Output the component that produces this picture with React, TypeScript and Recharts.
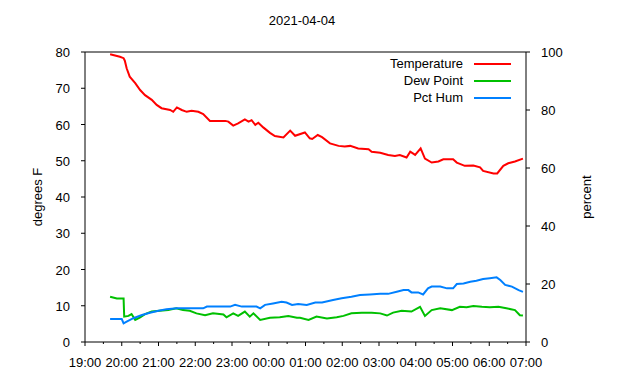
import { LineChart, Line, XAxis, YAxis, ReferenceLine, Legend } from 'recharts';

// readings, times are local clock "HH:MM" (evening of 04-03 to morning of 04-04)
const tempTimes = [
  '19:41', '19:57', '20:03', '20:05', '20:08', '20:13', '20:22', '20:30', '20:38', '20:49',
  '20:57', '21:05', '21:19', '21:24', '21:30', '21:38', '21:46', '21:54', '22:05', '22:13',
  '22:24', '22:49', '22:54', '23:02', '23:10', '23:21', '23:27', '23:32', '23:38', '23:43',
  '23:51', '00:02', '00:10', '00:24', '00:35', '00:43', '00:59', '01:07', '01:11', '01:20',
  '01:27', '01:40', '01:54', '02:04', '02:13', '02:26', '02:43', '02:48', '03:02', '03:15',
  '03:26', '03:34', '03:45', '03:51', '03:59', '04:08', '04:15', '04:26', '04:37', '04:45',
  '05:01', '05:07', '05:20', '05:34', '05:45', '05:50', '06:07', '06:13', '06:23', '06:31',
  '06:42', '06:55',
];
const tempValues = [
  79.4, 78.7, 78.3, 77.6, 75.5, 73.2, 71.4, 69.5, 68.1, 66.8,
  65.4, 64.5, 64.0, 63.5, 64.7, 64.0, 63.5, 63.8, 63.5, 62.9,
  61.0, 61.0, 60.8, 59.7, 60.3, 61.4, 60.8, 61.2, 59.9, 60.5,
  59.2, 57.7, 56.8, 56.4, 58.3, 56.9, 57.8, 56.2, 56.0, 57.1,
  56.5, 54.8, 54.1, 53.9, 54.1, 53.4, 53.2, 52.5, 52.2, 51.6,
  51.3, 51.6, 50.9, 52.5, 51.6, 53.4, 50.6, 49.5, 49.8, 50.4,
  50.4, 49.5, 48.6, 48.7, 48.2, 47.2, 46.5, 46.5, 48.6, 49.3,
  49.8, 50.6,
];

const dewTimes = [
  '19:41', '19:52', '20:03', '20:04', '20:11', '20:16', '20:22', '20:30', '20:38', '20:49',
  '21:02', '21:16', '21:29', '21:40', '21:51', '22:02', '22:16', '22:29', '22:46', '22:51',
  '23:02', '23:10', '23:21', '23:29', '23:35', '23:46', '00:02', '00:18', '00:32', '00:46',
  '00:51', '01:05', '01:18', '01:35', '01:51', '02:02', '02:15', '02:32', '02:48', '03:02',
  '03:13', '03:23', '03:37', '03:53', '04:07', '04:15', '04:26', '04:40', '04:59', '05:12',
  '05:23', '05:34', '05:48', '06:01', '06:15', '06:28', '06:42', '06:50', '06:55',
];
const dewValues = [
  12.5, 12.0, 12.0, 7.0, 7.2, 7.7, 6.1, 6.8, 7.7, 8.4,
  8.6, 8.8, 9.3, 8.8, 8.6, 7.9, 7.4, 7.9, 7.6, 6.8,
  7.9, 7.2, 8.4, 7.0, 7.9, 6.1, 6.7, 6.8, 7.2, 6.7,
  6.7, 6.1, 7.0, 6.5, 6.8, 7.2, 7.9, 8.1, 8.1, 7.9,
  7.3, 8.1, 8.6, 8.4, 9.7, 7.2, 8.8, 9.3, 8.8, 9.7,
  9.6, 9.9, 9.7, 9.6, 9.7, 9.3, 8.8, 7.4, 7.3,
];

const humTimes = [
  '19:41', '20:00', '20:03', '20:08', '20:19', '20:33', '20:46', '21:00', '21:13', '21:30',
  '21:51', '22:13', '22:19', '22:57', '23:05', '23:16', '23:40', '23:46', '23:54', '00:07',
  '00:21', '00:29', '00:38', '00:48', '01:02', '01:16', '01:27', '01:45', '01:59', '02:15',
  '02:29', '02:45', '03:02', '03:15', '03:29', '03:40', '03:48', '03:53', '04:04', '04:12',
  '04:20', '04:26', '04:40', '04:51', '05:01', '05:07', '05:18', '05:29', '05:39', '05:50',
  '06:01', '06:12', '06:18', '06:26', '06:37', '06:48', '06:55',
];
const humValues = [
  7.9, 7.9, 6.4, 7.0, 8.2, 9.3, 10.1, 10.8, 11.3, 11.6,
  11.6, 11.6, 12.2, 12.2, 12.8, 12.2, 12.2, 11.6, 12.8, 13.3,
  13.9, 13.6, 12.8, 13.1, 12.8, 13.6, 13.6, 14.5, 15.1, 15.6,
  16.2, 16.4, 16.6, 16.6, 17.3, 17.9, 17.9, 17.1, 17.1, 16.4,
  18.5, 19.1, 19.1, 18.5, 18.5, 20.0, 20.2, 20.8, 21.1, 21.7,
  22.0, 22.3, 21.4, 19.7, 19.1, 17.9, 17.3,
];

const seriesNames = ['Temperature', 'Dew Point', 'Pct Hum'];
const hourLabels = [
  '19:00', '20:00', '21:00', '22:00', '23:00', '00:00', '01:00',
  '02:00', '03:00', '04:00', '05:00', '06:00', '07:00',
];
const degTicks = [0, 10, 20, 30, 40, 50, 60, 70, 80];
const pctTicks = [0, 20, 40, 60, 80, 100];

// minutes since 19:00
const toMin = (s: string) => {
  let [h, m] = s.split(':').map(Number);
  if (h < 19) h += 24;
  return (h - 19) * 60 + m;
};

const xTicks: number[] = [];
for (let i = 0; i <= 24; i++) xTicks.push(i * 30);

const tempData = tempTimes.map((t, i) => ({ t: toMin(t), v: tempValues[i] }));
const dewData = dewTimes.map((t, i) => ({ t: toMin(t), v: dewValues[i] }));
const humData = humTimes.map((t, i) => ({ t: toMin(t), v: humValues[i] }));

const FONT = '"Liberation Sans", Arial, sans-serif';

const XTick = ({ x, y, payload }: any) => {
  const major = payload.value % 60 === 0;
  return (
    <g>
      <line x1={x} x2={x} y1={y} y2={y + (major ? 4 : 2)} stroke="#000" />
      {major && (
        <text x={x} y={y + 25} textAnchor="middle" fontSize={13} fill="#000" fontFamily={FONT}>
          {hourLabels[payload.value / 60]}
        </text>
      )}
    </g>
  );
};

const LeftTick = ({ x, y, payload }: any) => (
  <g>
    <line x1={x - 4} x2={x} y1={y} y2={y} stroke="#000" />
    <text x={x - 15} y={y + 5} textAnchor="end" fontSize={13} fill="#000" fontFamily={FONT}>
      {payload.value}
    </text>
  </g>
);

const RightTick = ({ x, y, payload }: any) => (
  <g>
    <line x1={x} x2={x + 4} y1={y} y2={y} stroke="#000" />
    <text x={x + 15} y={y + 5} textAnchor="start" fontSize={13} fill="#000" fontFamily={FONT}>
      {payload.value}
    </text>
  </g>
);

const LegendBox = ({ payload }: any) => {
  const items = [...(payload || [])].sort(
    (a: any, b: any) => seriesNames.indexOf(a.value) - seriesNames.indexOf(b.value)
  );
  return (
    <div style={{ fontFamily: FONT, fontSize: 13, color: '#000' }}>
      {items.map((p: any) => (
        <div key={p.value} style={{ display: 'flex', alignItems: 'center', height: 17 }}>
          <span style={{ width: 163, textAlign: 'right' }}>{p.value}</span>
          <span style={{ width: 37, height: 2, marginLeft: 11, background: p.color }} />
        </div>
      ))}
    </div>
  );
};

export default function App() {
  return (
    <div
      style={{
        position: 'absolute',
        left: 0,
        top: 0,
        width: 640,
        height: 380,
        background: '#fff',
        fontFamily: FONT,
      }}
    >
      <div
        style={{
          position: 'absolute',
          left: 242,
          width: 120,
          top: 13,
          textAlign: 'center',
          fontSize: 13,
          lineHeight: '15px',
        }}
      >
        2021-04-04
      </div>
      <div
        style={{
          position: 'absolute',
          left: 37,
          top: 197,
          fontSize: 13,
          whiteSpace: 'nowrap',
          transform: 'translate(-50%, -50%) rotate(-90deg)',
        }}
      >
        degrees F
      </div>
      <div
        style={{
          position: 'absolute',
          left: 586,
          top: 197,
          fontSize: 13,
          whiteSpace: 'nowrap',
          transform: 'translate(-50%, -50%) rotate(-90deg)',
        }}
      >
        percent
      </div>
      <LineChart width={640} height={380} margin={{ top: 52, right: 74, bottom: 13, left: 45 }}>
        <XAxis
          dataKey="t"
          type="number"
          domain={[0, 720]}
          ticks={xTicks}
          interval={0}
          height={25}
          tickSize={0}
          tickMargin={0}
          tickLine={false}
          axisLine={{ stroke: '#000' }}
          tick={<XTick />}
        />
        <YAxis
          yAxisId="left"
          domain={[0, 80]}
          ticks={degTicks}
          interval={0}
          width={40}
          tickSize={0}
          tickMargin={0}
          tickLine={false}
          axisLine={{ stroke: '#000' }}
          tick={<LeftTick />}
        />
        <YAxis
          yAxisId="right"
          orientation="right"
          domain={[0, 100]}
          ticks={pctTicks}
          interval={0}
          width={40}
          tickSize={0}
          tickMargin={0}
          tickLine={false}
          axisLine={{ stroke: '#000' }}
          tick={<RightTick />}
        />
        <ReferenceLine yAxisId="left" y={80} stroke="#000" />
        <Legend
          layout="vertical"
          align="center"
          verticalAlign="middle"
          wrapperStyle={{ top: 55, left: 300, width: 220 }}
          content={<LegendBox />}
        />
        <Line
          yAxisId="left"
          data={tempData}
          dataKey="v"
          name="Temperature"
          type="linear"
          stroke="#ff0000"
          strokeWidth={2}
          dot={false}
          isAnimationActive={false}
        />
        <Line
          yAxisId="left"
          data={dewData}
          dataKey="v"
          name="Dew Point"
          type="linear"
          stroke="#00c000"
          strokeWidth={2}
          dot={false}
          isAnimationActive={false}
        />
        <Line
          yAxisId="right"
          data={humData}
          dataKey="v"
          name="Pct Hum"
          type="linear"
          stroke="#0080ff"
          strokeWidth={2}
          dot={false}
          isAnimationActive={false}
        />
      </LineChart>
    </div>
  );
}
